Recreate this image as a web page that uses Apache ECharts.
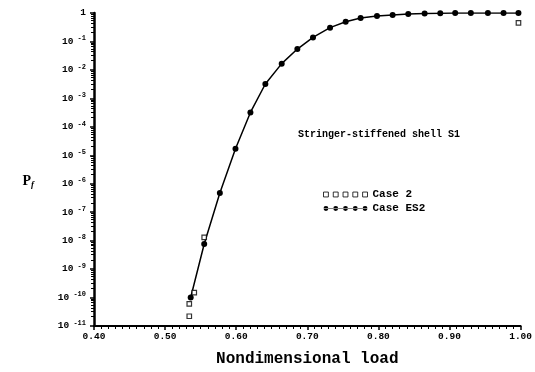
<!DOCTYPE html>
<html>
<head>
<meta charset="utf-8">
<script src="https://cdn.jsdelivr.net/npm/echarts@6/dist/echarts.min.js"></script>
<style>
  html, body { margin: 0; padding: 0; background: #fff; }
  #chart { width: 535px; height: 372px; }
</style>
</head>
<body>
<div id="chart"></div>
<script>
// Failure probability of the stringer-stiffened shell S1 versus load
const loadTicks = [0.4, 0.5, 0.6, 0.7, 0.8, 0.9, 1.0];

const loadES2 = [0.536, 0.555, 0.577, 0.599, 0.620, 0.641, 0.664, 0.686, 0.708, 0.732,
                 0.754, 0.775, 0.798, 0.820, 0.842, 0.865, 0.887, 0.908, 0.930, 0.954,
                 0.976, 0.997];
const pfES2 = [1.0e-10, 7.6e-9, 4.7e-7, 1.7e-5, 3.2e-4, 3.2e-3, 1.66e-2, 5.4e-2, 0.139, 0.306,
               0.49, 0.67, 0.79, 0.85, 0.92, 0.96, 0.98, 0.99, 0.99, 0.99,
               1.0, 1.0];

const loadCase2 = [0.534, 0.534, 0.541, 0.555, 0.997];
const pfCase2 = [2.2e-11, 6.0e-11, 1.5e-10, 1.3e-8, 0.45];

const pairs = (xs, ys) => xs.map((x, i) => [x, ys[i]]);

const monoBold = { fontFamily: 'Liberation Mono', fontWeight: 'bold', color: '#000' };

// five markers in a row, used as legend keys
const dotsPath = 'path://M0,1.7L36,1.7L36,2.3L0,2.3Z' +
  [0, 8, 16, 24, 32].map(c => 'M' + c + ',2a2,2 0 1,0 4,0a2,2 0 1,0 -4,0Z').join('');
const boxesPath = 'path://' +
  [0, 8, 16, 24, 32].map(c => 'M' + c + ',0L' + (c + 4) + ',0L' + (c + 4) + ',4L' + c + ',4Z').join('');

const chart = echarts.init(document.getElementById('chart'), null, { renderer: 'canvas' });

chart.setOption({
  animation: false,
  backgroundColor: '#fff',
  grid: { left: 94, right: 11, top: 13, bottom: 40, containLabel: false },
  title: {
    text: 'Stringer-stiffened shell S1',
    left: 293, top: 124,
    textStyle: Object.assign({ fontSize: 10 }, monoBold)
  },
  legend: {
    orient: 'vertical',
    left: 318, top: 184,
    itemWidth: 44, itemHeight: 5, itemGap: 3,
    textStyle: Object.assign({ fontSize: 11 }, monoBold),
    data: [
      { name: 'Case 2', icon: boxesPath,
        itemStyle: { color: '#fff', borderColor: '#000', borderWidth: 1 } },
      { name: 'Case ES2', icon: dotsPath,
        itemStyle: { color: '#000', borderWidth: 0 } }
    ]
  },
  xAxis: {
    type: 'value',
    min: loadTicks[0], max: loadTicks[loadTicks.length - 1], interval: 0.1,
    name: 'Nondimensional load',
    nameLocation: 'middle', nameGap: 25,
    nameTextStyle: Object.assign({ fontSize: 16 }, monoBold),
    axisLine: { lineStyle: { color: '#000', width: 2 } },
    axisTick: { show: true, length: 4, lineStyle: { color: '#000', width: 1.5 } },
    minorTick: { show: true, splitNumber: 10, length: 3, lineStyle: { color: '#000', width: 1 } },
    splitLine: { show: false },
    axisLabel: Object.assign({ fontSize: 9.5, margin: 6, formatter: v => v.toFixed(2) }, monoBold)
  },
  yAxis: {
    type: 'log', logBase: 10,
    min: 1e-11, max: 1, interval: 1,
    name: '{p|P}{s|f}',
    nameLocation: 'middle', nameGap: 60, nameRotate: 0,
    nameTextStyle: {
      padding: [24, 0, 0, 0],
      rich: {
        p: { fontFamily: 'Liberation Serif', fontWeight: 'bold', fontSize: 14, color: '#000' },
        s: { fontFamily: 'Liberation Serif', fontStyle: 'italic', fontWeight: 'bold', fontSize: 9,
             color: '#000', padding: [6, 0, 0, 0] }
      }
    },
    axisLine: { lineStyle: { color: '#000', width: 2.5 } },
    axisTick: { show: true, inside: false, length: 4, lineStyle: { color: '#000', width: 1.5 } },
    minorTick: { show: true, splitNumber: 8, length: 3, lineStyle: { color: '#000', width: 1 } },
    splitLine: { show: false },
    axisLabel: {
      margin: 8,
      formatter: v => {
        const e = Math.round(Math.log10(v));
        return e === 0 ? '{b|1}' : '{b|10}{e| ' + e + '}';
      },
      rich: {
        b: Object.assign({ fontSize: 9.5 }, monoBold),
        e: Object.assign({ fontSize: 7, padding: [0, 0, 6, 0] }, monoBold)
      }
    }
  },
  series: [
    {
      name: 'Case ES2',
      type: 'line',
      data: pairs(loadES2, pfES2),
      symbol: 'circle', symbolSize: 6,
      itemStyle: { color: '#000' },
      lineStyle: { color: '#000', width: 1.5 },
      z: 3
    },
    {
      name: 'Case 2',
      type: 'scatter',
      data: pairs(loadCase2, pfCase2),
      symbol: 'rect', symbolSize: 4.5,
      itemStyle: { color: '#fff', borderColor: '#000', borderWidth: 1.2 },
      z: 4
    }
  ]
});
</script>
</body>
</html>
